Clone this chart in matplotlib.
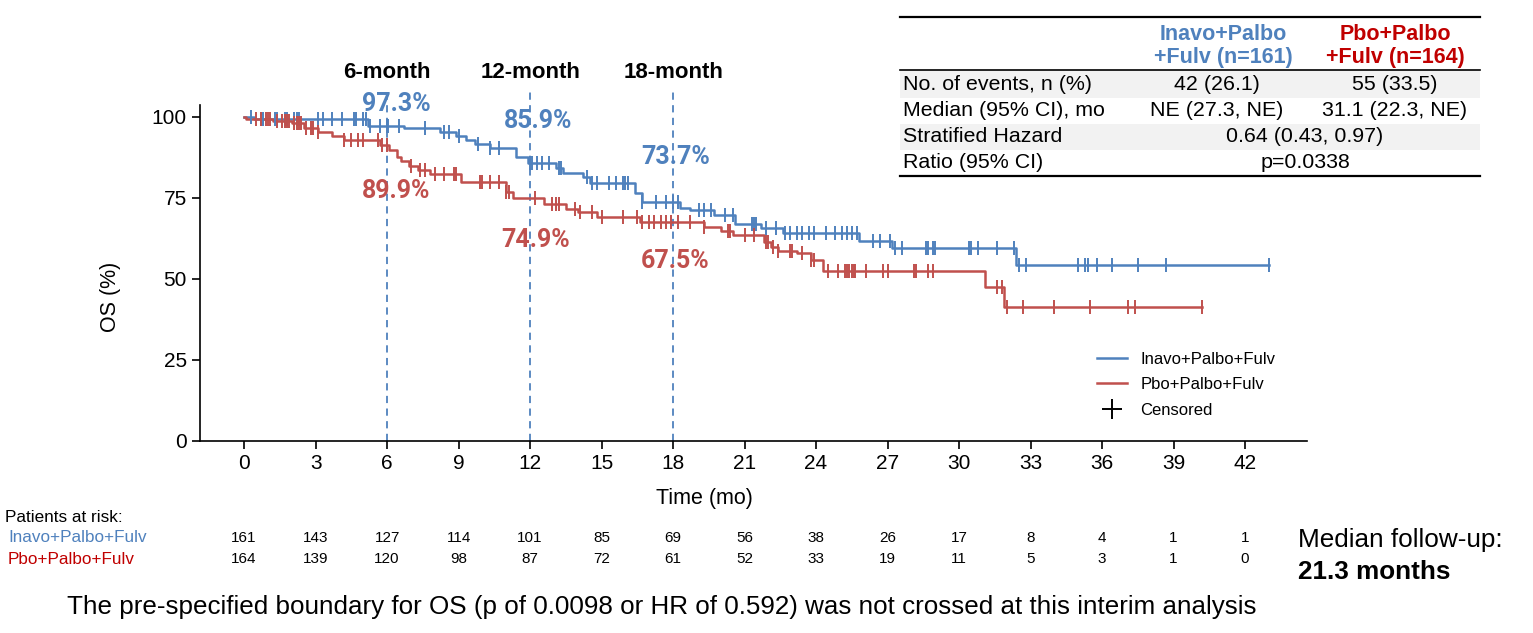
import matplotlib
matplotlib.use("Agg")
import matplotlib.pyplot as plt
import matplotlib.transforms as mtransforms
from matplotlib.lines import Line2D
from matplotlib.patches import Rectangle
import numpy as np

# Osnovne nastavitve

plt.rcParams["font.family"] = ["Liberation Sans", "DejaVu Sans"]

BLUE = "#4f81bd"
RED = "#c0504d"
RED_DARK = "#c00000"
W, H = 1533.0, 633.0

# Podatki (odčitani s slike)

INAVO_TIMES = [0, 0.4, 5.2, 6.7, 8.2, 8.9, 9.3, 9.7, 10.3, 11.4, 11.9, 13.1, 13.4,
               14.2, 14.5, 16.4, 16.7, 18.3, 18.7, 19.7, 20.6, 21.7, 22.6, 25.8,
               27.2, 32.4]
INAVO_SURV = [100, 99.4, 97.3, 96.5, 95.5, 94.2, 92.9, 91.6, 90.3, 87.8, 85.9, 84.3,
              82.8, 81.6, 79.6, 76.5, 73.7, 72.0, 71.3, 69.8, 67.1, 65.7, 64.1, 61.8,
              59.5, 54.3]
INAVO_CENSOR = [0.3, 0.7, 0.8, 1.3, 1.4, 1.7, 1.8, 2.1, 2.2, 2.3, 3.1, 3.3, 3.7, 4.1,
                4.6, 4.7, 5.0, 5.1, 5.3, 5.7, 6.0, 6.05, 6.5, 7.6, 8.4, 8.6, 9.0, 9.8,
                10.3, 10.7, 12.0, 12.1, 12.3, 12.5, 12.8, 13.2, 13.3, 14.4, 14.6, 14.8,
                15.3, 15.6, 15.9, 16.0, 16.1, 16.7, 17.3, 17.7, 18.0, 18.2, 19.1, 19.3,
                19.6, 20.2, 20.5, 21.3, 21.4, 21.5, 21.9, 22.3, 22.7, 22.9, 23.2, 23.4,
                23.7, 23.9, 24.4, 24.8, 25.1, 25.3, 25.5, 25.7, 26.4, 26.7, 27.1, 27.3,
                27.6, 28.6, 28.7, 28.9, 29.0, 30.4, 30.5, 30.8, 31.6, 32.3, 32.5, 32.8,
                35.0, 35.3, 35.4, 35.8, 36.4, 37.5, 38.7, 43.0]

PBO_TIMES = [0, 0.1, 1.2, 2.0, 2.5, 3.1, 3.7, 4.2, 5.7, 6.1, 6.4, 6.6, 6.9, 7.3, 7.8,
             9.1, 11.0, 11.3, 12.6, 13.5, 14.0, 14.8, 16.6, 19.3, 20.0, 20.5, 21.8,
             22.1, 22.4, 23.2, 23.8, 24.3, 31.1, 31.9]
PBO_SURV = [100, 99.4, 98.7, 98.0, 96.6, 95.4, 94.2, 92.9, 91.4, 89.9, 87.6, 86.3,
            85.0, 83.6, 82.4, 79.9, 77.0, 74.9, 73.2, 71.6, 70.6, 69.0, 67.5, 66.2,
            64.9, 63.5, 61.4, 60.0, 58.7, 58.0, 55.8, 52.5, 47.4, 41.5]
PBO_CENSOR = [0.5, 0.7, 0.9, 1.0, 1.1, 1.4, 1.6, 1.7, 1.8, 1.9, 2.1, 2.2, 2.3, 2.4,
              2.6, 2.8, 2.9, 3.1, 4.2, 4.5, 4.8, 5.0, 5.6, 5.8, 6.0, 7.0, 7.4, 7.6,
              8.0, 8.4, 8.8, 8.9, 9.9, 10.0, 10.3, 10.7, 11.0, 11.1, 12.2, 12.9, 13.1,
              13.2, 13.9, 14.1, 14.6, 15.0, 15.9, 16.5, 16.7, 17.0, 17.2, 17.5, 17.7,
              17.9, 18.2, 18.7, 19.3, 20.3, 20.4, 21.0, 21.4, 21.9, 22.0, 22.2, 22.4,
              22.9, 23.0, 23.4, 23.8, 23.9, 24.5, 24.9, 25.2, 25.3, 25.4, 25.5, 25.6,
              25.65, 26.1, 26.8, 27.0, 28.1, 28.2, 28.7, 28.9, 31.6, 31.8, 32.0, 32.7,
              34.0, 35.5, 37.1, 37.4, 40.2]

LANDMARKS = [6, 12, 18]
LANDMARK_LABELS = ["6-month", "12-month", "18-month"]
INAVO_LANDMARK = ["97.3%", "85.9%", "73.7%"]
PBO_LANDMARK = ["89.9%", "74.9%", "67.5%"]

RISK_TIMES = list(range(0, 43, 3))
INAVO_RISK = [161, 143, 127, 114, 101, 85, 69, 56, 38, 26, 17, 8, 4, 1, 1]
PBO_RISK = [164, 139, 120, 98, 87, 72, 61, 52, 33, 19, 11, 5, 3, 1, 0]

TABLE_ROWS = ["No. of events, n (%)", "Median (95% CI), mo", "Stratified Hazard", "Ratio (95% CI)"]
TABLE_INAVO = ["42 (26.1)", "NE (27.3, NE)"]
TABLE_PBO = ["55 (33.5)", "31.1 (22.3, NE)"]
TABLE_HR = ["0.64 (0.43, 0.97)", "p=0.0338"]

# polozaji oznak odstotkov (x v mesecih, y v %)
INAVO_LABEL_POS = [(6.4, 104.0), (12.35, 98.8), (18.1, 87.7)]
PBO_LABEL_POS = [(6.4, 77.2), (12.25, 62.0), (18.1, 55.6)]


def fx(px):
    return px / W


def fy(py):
    return 1 - py / H


def surv_at(times, surv, t):
    idx = np.searchsorted(times, t, side="right") - 1
    return np.asarray(surv)[idx]


def draw_curve(ax, times, surv, censor, color):
    end = max(censor[-1], times[-1])
    x = list(times) + [end]
    y = list(surv) + [surv[-1]]
    ax.step(x, y, where="post", color=color, lw=1.8, zorder=3)
    cy = surv_at(times, surv, np.array(censor))
    ax.plot(censor, cy, ls="none", marker="|", ms=10, mew=1.4, color=color, zorder=4)


def draw_table(fig):
    # ozadje vrstic
    for top, bot, col in [(70, 98, "#f2f2f2"), (98, 124, "#ffffff"), (124, 150, "#f2f2f2"), (150, 176, "#ffffff")]:
        fig.patches.append(Rectangle((fx(900), fy(bot)), fx(1480) - fx(900), fy(top) - fy(bot),
                                     transform=fig.transFigure, facecolor=col, edgecolor="none", zorder=0))
    for py, lw in [(17, 1.6), (70, 1.2), (176, 1.6)]:
        fig.add_artist(Line2D([fx(900), fx(1480)], [fy(py), fy(py)], color="black", lw=lw))

    hs = 15.5
    fig.text(fx(1223), fy(34), "Inavo+Palbo", color=BLUE, fontsize=hs, fontweight="bold", ha="center", va="center")
    fig.text(fx(1223), fy(58), "+Fulv (n=161)", color=BLUE, fontsize=hs, fontweight="bold", ha="center", va="center")
    fig.text(fx(1395), fy(34), "Pbo+Palbo", color=RED_DARK, fontsize=hs, fontweight="bold", ha="center", va="center")
    fig.text(fx(1395), fy(58), "+Fulv (n=164)", color=RED_DARK, fontsize=hs, fontweight="bold", ha="center", va="center")

    fs = 15.4
    row_y = [85, 111, 137, 163]
    for label, py in zip(TABLE_ROWS, row_y):
        fig.text(fx(903), fy(py), label, fontsize=fs, ha="left", va="center")
    for val, py in zip(TABLE_INAVO, row_y[:2]):
        fig.text(fx(1217), fy(py), val, fontsize=fs, ha="center", va="center")
    for val, py in zip(TABLE_PBO, row_y[:2]):
        fig.text(fx(1395), fy(py), val, fontsize=fs, ha="center", va="center")
    for val, py in zip(TABLE_HR, row_y[2:]):
        fig.text(fx(1305), fy(py), val, fontsize=fs, ha="center", va="center")


def draw_risk_table(fig, ax):
    trans = mtransforms.blended_transform_factory(ax.transData, fig.transFigure)
    fig.text(fx(5), fy(517), "Patients at risk:", fontsize=12.3, va="center")
    fig.text(fx(8), fy(538), "Inavo+Palbo+Fulv", fontsize=12.3, color=BLUE, va="center")
    fig.text(fx(8), fy(559), "Pbo+Palbo+Fulv", fontsize=12.3, color=RED_DARK, va="center")
    for t, a, b in zip(RISK_TIMES, INAVO_RISK, PBO_RISK):
        fig.text(t, fy(538), str(a), transform=trans, fontsize=11, ha="center", va="center")
        fig.text(t, fy(559), str(b), transform=trans, fontsize=11, ha="center", va="center")

    fig.text(fx(1298), fy(540), "Median follow-up:", fontsize=18.8, va="center")
    fig.text(fx(1298), fy(572), "21.3 months", fontsize=18.8, fontweight="bold", va="center")


def main():
    fig = plt.figure(figsize=(15.33, 6.33), dpi=100)
    ax = fig.add_axes([fx(200), fy(441), 1107 / W, 336 / H])

    draw_curve(ax, INAVO_TIMES, INAVO_SURV, INAVO_CENSOR, BLUE)
    draw_curve(ax, PBO_TIMES, PBO_SURV, PBO_CENSOR, RED)

    for lm, lab in zip(LANDMARKS, LANDMARK_LABELS):
        ax.plot([lm, lm], [0, 108], ls=(0, (4, 3)), color=BLUE, lw=1.3, clip_on=False, zorder=2)
        ax.text(lm, 113.8, lab, fontsize=16, fontweight="bold", ha="center", va="center", clip_on=False)
    for (x, y), txt in zip(INAVO_LABEL_POS, INAVO_LANDMARK):
        ax.text(x, y, txt, color=BLUE, fontsize=18, fontweight="bold", ha="center", va="center",
                family=["Roboto", "DejaVu Sans"], zorder=5)
    for (x, y), txt in zip(PBO_LABEL_POS, PBO_LANDMARK):
        ax.text(x, y, txt, color=RED, fontsize=18, fontweight="bold", ha="center", va="center",
                family=["Roboto", "DejaVu Sans"], zorder=5)

    ax.set_xlim(-1.85, 44.6)
    ax.set_ylim(0, 103.7)
    ax.set_xticks(RISK_TIMES)
    ax.set_yticks([0, 25, 50, 75, 100])
    ax.tick_params(labelsize=15, length=6, width=1.2)
    ax.spines["top"].set_visible(False)
    ax.spines["right"].set_visible(False)
    ax.spines["left"].set_linewidth(1.2)
    ax.spines["bottom"].set_linewidth(1.2)
    ax.set_xlabel("Time (mo)", fontsize=15.5)
    ax.set_ylabel("OS (%)", fontsize=15.5)
    ax.xaxis.set_label_coords((704 - 200) / 1107, -(488 - 441) / 336)
    ax.yaxis.set_label_coords(-(200 - 121) / 1107, (441 - 297) / 336)

    handles = [
        Line2D([], [], color=BLUE, lw=1.8),
        Line2D([], [], color=RED, lw=1.8),
        Line2D([], [], color="black", ls="none", marker="+", ms=14, mew=1.4),
    ]
    ax.legend(handles, ["Inavo+Palbo+Fulv", "Pbo+Palbo+Fulv", "Censored"], frameon=False,
              loc="lower right", bbox_to_anchor=(0.985, 0.025), fontsize=12, handlelength=1.8,
              labelspacing=0.62)

    draw_risk_table(fig, ax)

    fig.text(fx(662), fy(607),
             "The pre-specified boundary for OS (p of 0.0098 or HR of 0.592) was not crossed at this interim analysis",
             fontsize=18.7, ha="center", va="center")

    draw_table(fig)

    fig.savefig("out.png", dpi=100)


if __name__ == "__main__":
    main()
